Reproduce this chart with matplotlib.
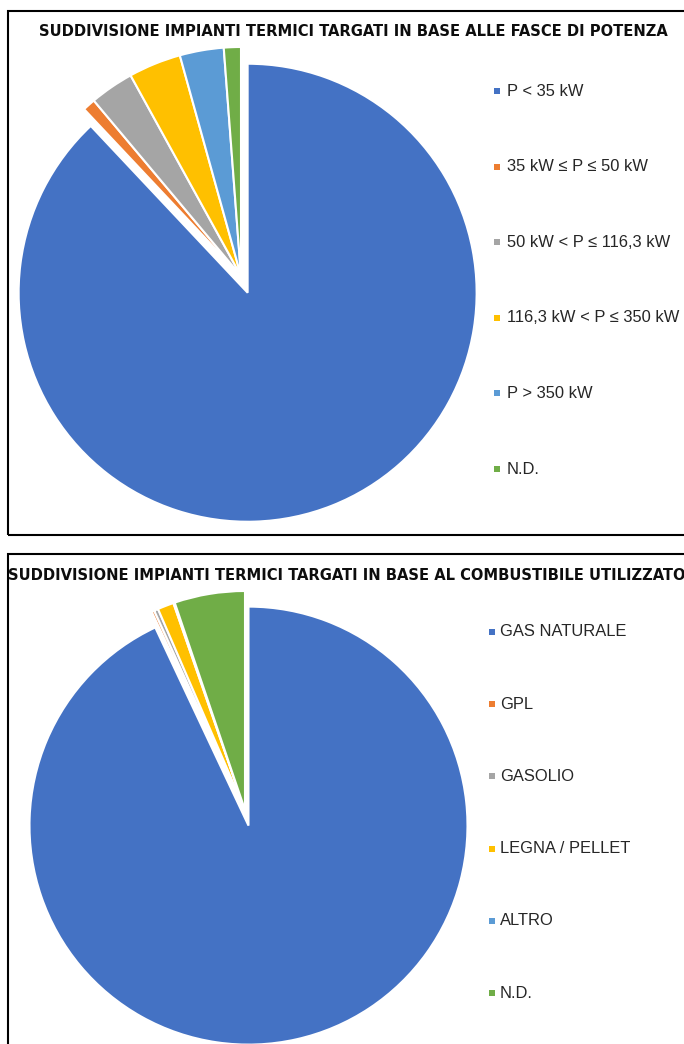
import matplotlib.pyplot as plt
from matplotlib.patches import Rectangle

# colori standard della tavolozza Office
colori = ['#4472C4', '#ED7D31', '#A5A5A5', '#FFC000', '#5B9BD5', '#70AD47']

# grafico 1: fasce di potenza (%)
fasce = ['P < 35 kW', '35 kW ≤ P ≤ 50 kW', '50 kW < P ≤ 116,3 kW',
         '116,3 kW < P ≤ 350 kW', 'P > 350 kW', 'N.D.']
quote_fasce = [87.9, 0.9, 3.1, 3.7, 3.1, 1.2]

# grafico 2: combustibile utilizzato (%)
combustibili = ['GAS NATURALE', 'GPL', 'GASOLIO', 'LEGNA / PELLET', 'ALTRO', 'N.D.']
quote_comb = [93.0, 0.2, 0.3, 1.2, 0.1, 5.2]

titolo1 = 'SUDDIVISIONE IMPIANTI TERMICI TARGATI IN BASE ALLE FASCE DI POTENZA'
titolo2 = 'SUDDIVISIONE IMPIANTI TERMICI TARGATI IN BASE AL COMBUSTIBILE UTILIZZATO'

W, H = 684, 1044
fig = plt.figure(figsize=(W / 100, H / 100), dpi=100)
ax = fig.add_axes([0, 0, 1, 1])

font_titolo = dict(family=['DejaVu Sans'], fontstretch='condensed', fontweight='bold',
                   fontsize=11.8, color='#0d0d0d', ha='center', va='center')
font_leg = dict(family=['Liberation Sans', 'DejaVu Sans'], fontsize=11.9,
                color='#262626', ha='left', va='center')


def torta(valori, etichette, titolo, centro, raggio, scoppio, y_box, x_tit, y_tit,
          x_leg, y_leg0, passo, dx_testo):
    # cornice del riquadro
    ax.add_patch(Rectangle((8, y_box[0]), 700, y_box[1] - y_box[0], fill=False,
                           edgecolor='black', linewidth=1.5, zorder=5))
    esplodi = [scoppio] + [0] * (len(valori) - 1)
    ax.pie(valori, colors=colori, center=centro, radius=raggio, startangle=90,
           counterclock=False, explode=esplodi,
           wedgeprops=dict(edgecolor='white', linewidth=1.5))
    ax.text(x_tit, y_tit, titolo, **font_titolo)
    for i, (et, col) in enumerate(zip(etichette, colori)):
        y = y_leg0 - i * passo
        ax.add_patch(Rectangle((x_leg - 3, y - 3), 6, 6, color=col, linewidth=0))
        ax.text(x_leg + dx_testo, y, et, **font_leg)


torta(quote_fasce, fasce, titolo1, (241, H - 276), 229, 18, (H - 535, H - 11),
      353, H - 32, 497, H - 91, 75.6, 10)
torta(quote_comb, combustibili, titolo2, (245, H - 810), 219, 16, (H - 554 - 600, H - 554),
      347, H - 576, 492, H - 632, 72.2, 8)

ax.set_xlim(0, W)
ax.set_ylim(0, H)
ax.set_aspect('auto')
ax.axis('off')

fig.savefig('out.png', dpi=100)
